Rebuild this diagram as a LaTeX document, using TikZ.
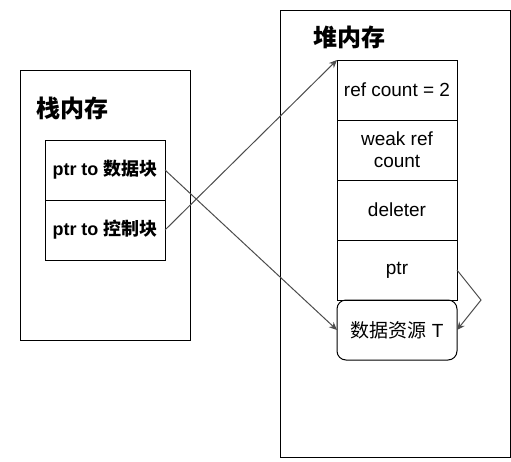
\documentclass[tikz,border=0pt]{standalone}
\usepackage{fontspec}
\setmainfont{Liberation Sans}
\newfontfamily\cjk{Noto Sans CJK SC}
\usetikzlibrary{positioning,arrows.meta}

\begin{document}
\begin{tikzpicture}[
  x=1pt, y=-1pt, line width=1pt,
  every node/.style={font=\fontsize{19}{22}\selectfont},
  region/.style={draw, minimum width=#1, outer sep=0pt},
  title/.style={anchor=west, font=\fontsize{24}{28}\selectfont\bfseries\cjk},
  cell/.style={draw, outer sep=0pt, inner sep=0pt, minimum width=120pt,
    minimum height=60pt, align=center},
  ptrline/.style={draw=black!70, -{Stealth[length=8pt,width=7pt]}},
]
\useasboundingbox (0,0) rectangle (511,461);
% stack side
\node[region=170pt, minimum height=270pt] (stack) at (105,205) {};
\node[title] (stacktitle) at (33,108) {栈内存};
\node[cell, font=\fontsize{18}{21}\selectfont\bfseries] (dataptr) at (105,170) {ptr to {\cjk 数据块}};
\node[cell, font=\fontsize{18}{21}\selectfont\bfseries, below=0pt of dataptr] (ctrlptr) {ptr to {\cjk 控制块}};
% heap side
\node[region=230pt, minimum height=447pt] (heap) at (395,233.5) {};
\node[title] (heaptitle) at (310,37) {堆内存};
\node[cell] (refcnt) at (397,90) {ref count = 2};
\node[cell, below=0pt of refcnt] (weakcnt) {weak ref\\count};
\node[cell, below=0pt of weakcnt] (deleter) {deleter};
\node[cell, below=0pt of deleter] (resptr) {ptr};
\node[cell, rounded corners=9pt, below=0pt of resptr] (res) {{\cjk 数据资源} T};
% pointers
\draw[ptrline] (dataptr.east) -- (res.west);
\draw[ptrline] (ctrlptr.east) -- (refcnt.north west);
\draw[ptrline] (resptr.east) -- ([xshift=24pt]resptr.south east) -- (res.east);
\end{tikzpicture}
\end{document}
